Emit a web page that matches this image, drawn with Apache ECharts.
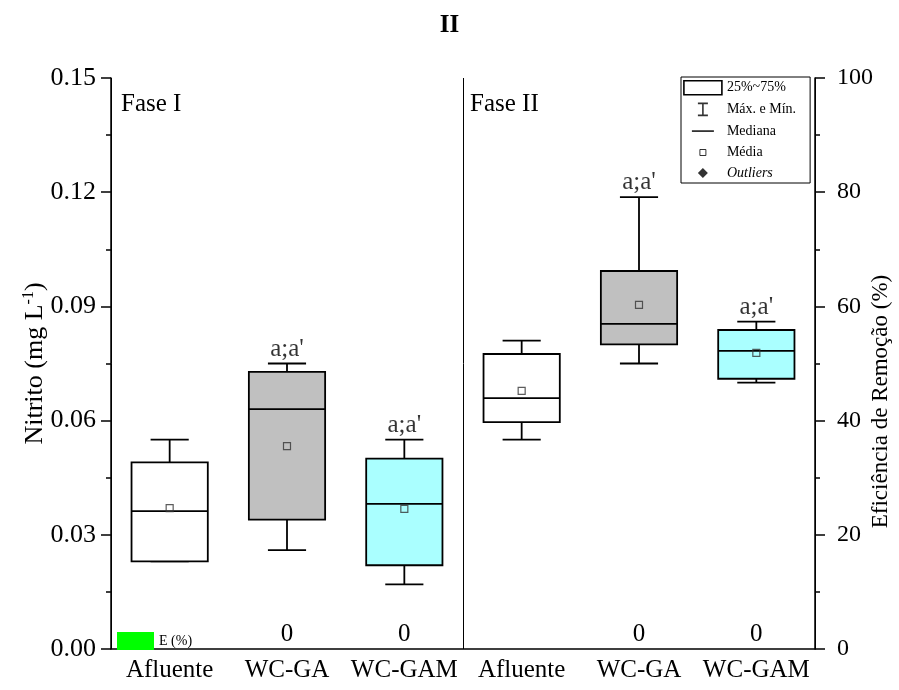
<!DOCTYPE html>
<html>
<head>
<meta charset="utf-8">
<script src="https://cdn.jsdelivr.net/npm/echarts@6/dist/echarts.min.js"></script>
<style>
html, body { margin: 0; padding: 0; background: #fff; }
#chart_nitrito { width: 899px; height: 690px; }
</style>
</head>
<body>
<div id="chart_nitrito"></div>
<script>
// categorias (Fase I e Fase II)
const categories = ['Afluente', 'WC-GA', 'WC-GAM', 'Afluente', 'WC-GA', 'WC-GAM']
// estatisticas do boxplot (mg/L)
const boxMin = [0.023, 0.026, 0.017, 0.055, 0.075, 0.070]
const boxQ1 = [0.023, 0.034, 0.022, 0.0596, 0.080, 0.071]
const boxMedian = [0.0362, 0.063, 0.0381, 0.0659, 0.0854, 0.0783]
const boxQ3 = [0.049, 0.0728, 0.050, 0.0775, 0.0993, 0.0838]
const boxMax = [0.055, 0.075, 0.055, 0.081, 0.1187, 0.086]
const boxMean = [0.0370, 0.0533, 0.0368, 0.0678, 0.0904, 0.0778]
// eficiencia de remocao (%)
const removal = [null, 0, 0, null, 0, 0]
const letters = ['', "a;a'", "a;a'", '', "a;a'", "a;a'"]
const boxColors = ['#ffffff', '#c0c0c0', '#aaffff', '#ffffff', '#c0c0c0', '#aaffff']

const serif = 'Liberation Serif'
const myChart = echarts.init(document.getElementById('chart_nitrito'))

const boxData = categories.map((c, i) => [i, boxMin[i], boxQ1[i], boxMedian[i], boxQ3[i], boxMax[i]])
const meanData = categories.map((c, i) => [i, boxMean[i]])
const letterData = []
letters.forEach((t, i) => {
  if (t) letterData.push({ value: [i, boxMax[i]], txt: t })
})

const option = {
  animation: false,
  title: [
    { text: 'II', left: 'center', top: 8, textStyle: { fontFamily: serif, fontWeight: 'bold', fontSize: 25, color: '#000' } },
    { text: 'Fase I', left: 116, top: 87, textStyle: { fontFamily: serif, fontWeight: 'normal', fontSize: 25, color: '#000' } },
    { text: 'Fase II', left: 465, top: 87, textStyle: { fontFamily: serif, fontWeight: 'normal', fontSize: 25, color: '#000' } }
  ],
  legend: [
    {
      orient: 'vertical',
      left: 681,
      top: 77,
      selectedMode: false,
      backgroundColor: '#fff',
      borderColor: '#000',
      borderWidth: 1,
      padding: [3, 14, 3, 2],
      itemWidth: 38,
      itemHeight: 14,
      itemGap: 6,
      itemTextGap: 3,
      textStyle: { fontFamily: serif, fontSize: 14, color: '#000' },
      data: [
        { name: '25%~75%', icon: 'rect', itemStyle: { color: '#fff', borderColor: '#000', borderWidth: 1.6 } },
        { name: 'Máx. e Mín.', icon: 'path://M0 0M38 14M14 1H24M19 1V13M14 13H24', itemStyle: { color: '#000', borderColor: '#000', borderWidth: 1.6 } },
        { name: 'Mediana', icon: 'path://M0 0M38 14M8 7H30', itemStyle: { color: '#000', borderColor: '#000', borderWidth: 1.8 } },
        { name: 'Média', icon: 'path://M0 0M38 14M16 4H22V10H16Z', itemStyle: { color: '#fff', borderColor: '#000', borderWidth: 1 } },
        { name: 'Outliers', icon: 'path://M0 0M38 14M19 2L24 7L19 12L14 7Z', itemStyle: { color: '#000', borderColor: '#000', borderWidth: 0 }, textStyle: { fontStyle: 'italic' } }
      ]
    },
    {
      left: 112,
      top: 627,
      selectedMode: false,
      itemWidth: 37,
      itemHeight: 18,
      itemTextGap: 5,
      textStyle: { fontFamily: serif, fontSize: 14, color: '#000' },
      data: [{ name: 'E (%)', icon: 'rect' }]
    }
  ],
  grid: { left: 111, right: 84, top: 78, bottom: 41, outerBoundsMode: 'none' },
  xAxis: {
    type: 'category',
    data: categories,
    axisLine: { lineStyle: { color: '#000', width: 1.5 } },
    axisTick: { alignWithLabel: true, length: 8, lineStyle: { color: '#000', width: 1.5 } },
    axisLabel: { interval: 0, hideOverlap: false, fontFamily: serif, fontSize: 25, color: '#000', margin: 9 },
    // linha vertical separando as fases
    splitLine: { show: true, interval: i => i % 3 === 0, lineStyle: { color: '#000', width: 1 } }
  },
  yAxis: [
    {
      type: 'value',
      min: 0,
      max: 0.15,
      interval: 0.03,
      name: '{a|Nitrito (mg L}{s|-1}{a|)}',
      nameLocation: 'middle',
      nameGap: 62,
      nameMoveOverlap: false,
      nameTextStyle: {
        rich: {
          a: { fontFamily: serif, fontSize: 26, color: '#000' },
          s: { fontFamily: serif, fontSize: 16, color: '#000', verticalAlign: 'top', padding: [0, 0, 12, 0] }
        }
      },
      axisLine: { show: true, lineStyle: { color: '#000', width: 1.5 } },
      axisTick: { show: true, length: 10, lineStyle: { color: '#000', width: 1.5 } },
      minorTick: { show: true, splitNumber: 2, length: 5, lineStyle: { color: '#000', width: 1.5 } },
      axisLabel: { fontFamily: serif, fontSize: 26, color: '#000', margin: 15, formatter: v => v.toFixed(2) },
      splitLine: { show: false }
    },
    {
      type: 'value',
      min: 0,
      max: 100,
      interval: 20,
      position: 'right',
      name: 'Eficiência de Remoção (%)',
      nameLocation: 'middle',
      nameGap: 54,
      nameMoveOverlap: false,
      nameRotate: 90,
      nameTextStyle: { fontFamily: serif, fontSize: 23, color: '#000', padding: [0, 76, 0, 0] },
      axisLine: { show: true, lineStyle: { color: '#000', width: 1.5 } },
      axisTick: { show: true, length: 10, lineStyle: { color: '#000', width: 1.5 } },
      minorTick: { show: true, splitNumber: 2, length: 5, lineStyle: { color: '#000', width: 1.5 } },
      axisLabel: { fontFamily: serif, fontSize: 24, color: '#000', margin: 22 },
      splitLine: { show: false }
    }
  ],
  series: [
    {
      name: '25%~75%',
      type: 'custom',
      encode: { x: 0, y: [1, 2, 3, 4, 5] },
      data: boxData,
      z: 2,
      renderItem: function(params, api) {
        const x = api.value(0)
        const pMin = api.coord([x, api.value(1)])
        const pQ1 = api.coord([x, api.value(2)])
        const pMed = api.coord([x, api.value(3)])
        const pQ3 = api.coord([x, api.value(4)])
        const pMax = api.coord([x, api.value(5)])
        const bw = api.size([1, 0])[0] * 0.65
        const cw = bw / 2
        const cx = pMed[0]
        const ls = { stroke: '#000', lineWidth: 1.8 }
        return {
          type: 'group',
          children: [
            { type: 'line', shape: { x1: cx, y1: pMax[1], x2: cx, y2: pQ3[1] }, style: ls },
            { type: 'line', shape: { x1: cx, y1: pQ1[1], x2: cx, y2: pMin[1] }, style: ls },
            { type: 'line', shape: { x1: cx - cw / 2, y1: pMax[1], x2: cx + cw / 2, y2: pMax[1] }, style: ls },
            { type: 'line', shape: { x1: cx - cw / 2, y1: pMin[1], x2: cx + cw / 2, y2: pMin[1] }, style: ls },
            {
              type: 'rect',
              shape: { x: cx - bw / 2, y: pQ3[1], width: bw, height: pQ1[1] - pQ3[1] },
              style: { fill: boxColors[params.dataIndex], stroke: '#000', lineWidth: 1.8 }
            },
            { type: 'line', shape: { x1: cx - bw / 2, y1: pMed[1], x2: cx + bw / 2, y2: pMed[1] }, style: ls }
          ]
        }
      }
    },
    { name: 'Máx. e Mín.', type: 'scatter', data: [] },
    { name: 'Mediana', type: 'scatter', data: [] },
    {
      name: 'Média',
      type: 'scatter',
      data: meanData,
      z: 4,
      symbol: 'rect',
      symbolSize: 7,
      itemStyle: { color: 'rgba(0,0,0,0)', borderColor: '#333', borderWidth: 1.2 }
    },
    { name: 'Outliers', type: 'scatter', data: [] },
    {
      name: 'letras',
      type: 'scatter',
      data: letterData,
      symbolSize: 0,
      z: 4,
      label: {
        show: true,
        position: 'top',
        distance: 2,
        fontFamily: serif,
        fontSize: 25,
        color: '#000',
        formatter: p => p.data.txt
      }
    },
    {
      name: 'E (%)',
      type: 'bar',
      yAxisIndex: 1,
      data: removal,
      barWidth: '30%',
      itemStyle: { color: '#00ff00' },
      label: { show: true, position: 'top', distance: 2, fontFamily: serif, fontSize: 25, color: '#000' }
    }
  ]
}

myChart.setOption(option)
window.addEventListener('resize', function() {
  myChart.resize()
})
</script>
</body>
</html>
